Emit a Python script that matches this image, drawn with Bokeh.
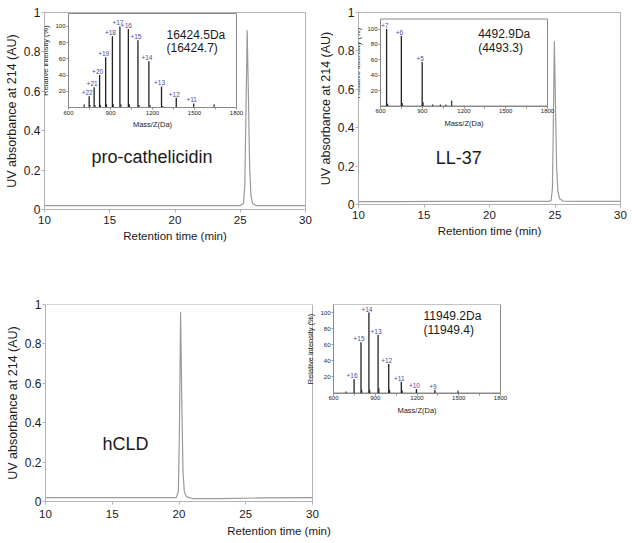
from bokeh.plotting import figure
from bokeh.models import (Range1d, FixedTicker, CustomJSTickFormatter, Label, ColumnDataSource,
                          LinearAxis)
from bokeh.layouts import column, row
from bokeh.embed import file_html
from bokeh.resources import INLINE
from bokeh.core.properties import value

# ---------------- data ----------------
# HPLC chromatograms: retention time (min) and UV absorbance at 214 nm (AU)
rt_pro = [10, 13, 16, 19, 22, 24.5, 25.0, 25.25, 25.35, 25.45, 25.53, 25.62, 25.72, 25.82, 25.95, 26.2, 27, 30]
abs_pro = [0.02, 0.02, 0.02, 0.02, 0.02, 0.02, 0.02, 0.03, 0.12, 0.55, 0.91, 0.60, 0.22, 0.07, 0.03, 0.02, 0.02, 0.02]

rt_ll = [10, 13, 16, 20, 23, 24.5, 24.7, 24.8, 24.88, 24.95, 25.03, 25.12, 25.22, 25.35, 25.6, 27, 30]
abs_ll = [0.015, 0.015, 0.016, 0.016, 0.016, 0.016, 0.02, 0.08, 0.45, 0.85, 0.55, 0.20, 0.07, 0.03, 0.018, 0.016, 0.016]

rt_hcld = [10, 14, 18, 19.8, 19.95, 20.03, 20.12, 20.2, 20.3, 20.4, 20.55, 21, 23, 26, 30]
abs_hcld = [0.02, 0.02, 0.02, 0.02, 0.05, 0.35, 0.96, 0.55, 0.15, 0.05, 0.025, 0.015, 0.015, 0.018, 0.02]

# ESI mass spectra: m/z (Da), relative intensity (%), charge states
mz_pro = [747.6, 783.1, 822.2, 865.4, 913.5, 967.2, 1027.5, 1096.0, 1174.2, 1264.4, 1369.7, 1494.1]
int_pro = [14, 25, 40, 62, 88, 100, 97, 83, 57, 26, 12, 5]
chg_pro = ["+22", "+21", "+20", "+19", "+18", "+17", "+16", "+15", "+14", "+13", "+12", "+11"]
mz_pro_minor = [712, 753, 789, 828, 871, 920, 974, 1035, 1104, 1182, 1273, 1640]
int_pro_minor = [4, 3, 3, 3, 4, 4, 4, 4, 3, 3, 2, 4]

mz_ll = [643.8, 749.8, 899.6]
int_ll = [100, 91, 57]
chg_ll = ["+7", "+6", "+5"]
mz_ll_minor = [651, 756, 906, 975, 1030, 1070, 1111]
int_ll_minor = [3, 4, 5, 2, 2, 2, 7]

mz_hcld = [747.8, 797.6, 854.5, 920.2, 996.8, 1087.3, 1195.9, 1328.7]
int_hcld = [17, 63, 100, 72, 36, 14, 5, 4]
chg_hcld = ["+16", "+15", "+14", "+13", "+12", "+11", "+10", "+9"]
mz_hcld_minor = [690, 802, 860, 926, 1003, 1094, 1495]
int_hcld_minor = [2, 4, 4, 6, 4, 3, 3]

names = ["pro-cathelicidin", "LL-37", "hCLD"]
mass_found = ["16424.5Da", "4492.9Da", "11949.2Da"]
mass_calc = ["(16424.7)", "(4493.3)", "(11949.4)"]

rt_lim = (10, 30)
abs_lim = (0, 1)
rt_ticks = [10, 15, 20, 25, 30]
abs_ticks = [0, 0.2, 0.4, 0.6, 0.8, 1]
mz_lim = (600, 1800)
mz_ticks = [600, 900, 1200, 1500, 1800]
mz_minor = [750, 1050, 1350, 1650]
int_ticks = [20, 40, 60, 80, 100]

# ---------------- styling ----------------
FONT = "Liberation Sans"
FRAME = "#b3b3b3"
LINE = "#9a9a9a"
TXT = "#1a1a1a"
MS_FRAME = "#8a8a8a"
BAR = "#222222"
CHG = "#4b4b9e"


def style_main_axes(xa, ya):
    xa.ticker = FixedTicker(ticks=rt_ticks)
    ya.ticker = FixedTicker(ticks=abs_ticks)
    ya.formatter = CustomJSTickFormatter(code="return String(Math.round(tick*10)/10)")
    for ax in (xa, ya):
        ax.axis_line_color = FRAME
        ax.major_tick_line_color = FRAME
        ax.major_tick_in = 0
        ax.major_tick_out = 3
        ax.minor_tick_out = 0
        ax.minor_tick_in = 0
        ax.major_label_text_font = FONT
        ax.major_label_text_color = TXT
        ax.axis_label_text_font = FONT
        ax.axis_label_text_font_style = "normal"
        ax.axis_label_text_color = TXT
    xa.axis_label = "Retention time (min)"
    ya.axis_label = "UV absorbance at 214 (AU)"
    xa.major_label_text_font_size = "11.5px"
    ya.major_label_text_font_size = "12px"
    xa.axis_label_text_font_size = "11.5px"
    ya.axis_label_text_font_size = "12.5px"
    xa.major_label_standoff = 3
    xa.axis_label_standoff = 3
    ya.major_label_standoff = 1
    ya.axis_label_standoff = 2


def style_ms_axes(xa, ya):
    xa.ticker = FixedTicker(ticks=mz_ticks, minor_ticks=mz_minor)
    ya.ticker = FixedTicker(ticks=int_ticks)
    for ax in (xa, ya):
        ax.axis_line_color = MS_FRAME
        ax.major_tick_line_color = MS_FRAME
        ax.minor_tick_line_color = MS_FRAME
        ax.major_tick_in = 0
        ax.major_tick_out = 2
        ax.minor_tick_in = 0
        ax.minor_tick_out = 2
        ax.major_label_text_font = FONT
        ax.major_label_text_font_size = "6px"
        ax.major_label_text_color = TXT
        ax.major_label_standoff = 1
        ax.axis_label_text_font = FONT
        ax.axis_label_text_font_style = "normal"
        ax.axis_label_text_color = TXT
        ax.axis_label_text_font_size = "7.5px"
        ax.axis_label_standoff = 2
    xa.axis_label = "Mass/Z(Da)"
    ya.axis_label = "Relative intensity (%)"


def draw_spectrum(q, mz, inten, chg, mzm, intm, found, calc, txt_xy, **rn):
    q.segment(x0=mzm, y0=[0] * len(mzm), x1=mzm, y1=intm, line_color="#333333", line_width=1.2, **rn)
    q.segment(x0=mz, y0=[0] * len(mz), x1=mz, y1=inten, line_color=BAR, line_width=1.3, **rn)
    src = ColumnDataSource(dict(x=mz, y=inten, t=chg))
    q.text(x="x", y="y", text="t", source=src, text_font=value(FONT), text_font_size="6.5px",
           text_color=CHG, text_align="center", text_baseline="bottom",
           x_offset=-2, y_offset=-1, **rn)
    for txt, yy in ((found, txt_xy[1]), (calc, txt_xy[2])):
        q.add_layout(Label(x=txt_xy[0], y=yy, text=txt, text_font=FONT, text_font_size="12px",
                           text_color=TXT, text_baseline="middle", **rn))


def add_inset(p, fw, fh, offs, ymax, *spec):
    # offs: inset box distance (px) from the frame's left, right, top and bottom edges
    l, r, t, b = offs
    sx = (mz_lim[1] - mz_lim[0]) / (fw - l - r)
    sy = ymax / (fh - t - b)
    p.extra_x_ranges = {"ms": Range1d(mz_lim[0] - l * sx, mz_lim[1] + r * sx)}
    p.extra_y_ranges = {"int": Range1d(0 - b * sy, ymax + t * sy)}
    rn = dict(x_range_name="ms", y_range_name="int")
    p.quad(left=[mz_lim[0]], right=[mz_lim[1]], bottom=[0], top=[ymax],
           fill_color="white", line_color=MS_FRAME, line_width=1, **rn)
    xa = LinearAxis(fixed_location=0, bounds=mz_lim, **rn)
    ya = LinearAxis(fixed_location=mz_lim[0], bounds=(0, ymax), **rn)
    style_ms_axes(xa, ya)
    p.add_layout(xa, "below")
    p.add_layout(ya, "left")
    draw_spectrum(p, *spec, **rn)


def chrom_fig(rt, ab, fw, fh, borders, name, name_xy):
    left, top, right, bottom = borders
    p = figure(frame_width=fw, frame_height=fh, x_range=Range1d(*rt_lim), y_range=Range1d(*abs_lim),
               output_backend="svg", toolbar_location=None,
               min_border_left=left, min_border_top=top,
               min_border_right=right, min_border_bottom=bottom)
    p.border_fill_color = "white"
    p.background_fill_color = "white"
    p.outline_line_color = FRAME
    p.grid.visible = False
    style_main_axes(p.xaxis[0], p.yaxis[0])
    p.line(rt, ab, line_color=LINE, line_width=1.2)
    p.add_layout(Label(x=name_xy[0], y=name_xy[1], text=name, text_font=FONT,
                       text_font_size="18px", text_color=TXT, text_baseline="middle"))
    return p


# ---- top row: two chromatograms with their mass-spectrum insets ----
p1 = chrom_fig(rt_pro, abs_pro, 261, 197, (44, 12, 8, 51), names[0], (13.6, 0.264))
add_inset(p1, 261, 197, (24, 69, 1, 102), 116,
          mz_pro, int_pro, chg_pro, mz_pro_minor, int_pro_minor,
          mass_found[0], mass_calc[0], (1300, 90, 74))

p2 = chrom_fig(rt_ll, abs_ll, 262, 192, (45, 11, 8, 57), names[1], (15.9, 0.241))
add_inset(p2, 262, 192, (22, 73, 6.5, 98.5), 113,
          mz_ll, int_ll, chg_ll, mz_ll_minor, int_ll_minor,
          mass_found[1], mass_calc[1], (1302, 93, 75))

# ---- bottom row: one canvas holding the hCLD chromatogram and its spectrum ----
FW3, FH3 = 467, 197          # canvas frame; the chromatogram uses its first 267 px
RT_W = 267
p3 = figure(frame_width=FW3, frame_height=FH3,
            x_range=Range1d(rt_lim[0], rt_lim[0] + (rt_lim[1] - rt_lim[0]) * FW3 / RT_W),
            y_range=Range1d(*abs_lim),
            output_backend="svg", toolbar_location=None,
            min_border_left=45, min_border_top=44, min_border_right=114, min_border_bottom=40)
p3.border_fill_color = "white"
p3.background_fill_color = "white"
p3.outline_line_color = None
p3.grid.visible = False
style_main_axes(p3.xaxis[0], p3.yaxis[0])
p3.xaxis[0].bounds = rt_lim
p3.xaxis[0].major_label_standoff = 5
p3.xaxis[0].axis_label_standoff = 4
p3.quad(left=[rt_lim[0]], right=[rt_lim[1]], bottom=[abs_lim[0]], top=[abs_lim[1]],
        fill_color=None, line_color=FRAME, line_width=1)
p3.line(rt_hcld, abs_hcld, line_color=LINE, line_width=1.2)
p3.add_layout(Label(x=14.27, y=0.294, text=names[2], text_font=FONT,
                    text_font_size="18px", text_color=TXT, text_baseline="middle"))
add_inset(p3, FW3, FH3, (288, 12, 0, 108.5), 110,
          mz_hcld, int_hcld, chg_hcld, mz_hcld_minor, int_hcld_minor,
          mass_found[2], mass_calc[2], (1247, 96, 78))

layout = column(row(p1, p2), p3)
open("out.html", "w").write(file_html(layout, INLINE))
